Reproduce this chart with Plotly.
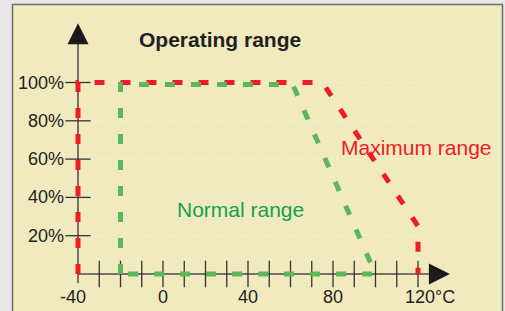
import plotly.graph_objects as go

# ---------------- data ----------------
max_temp = [-40, -40, 75, 120, 120]
max_load = [0, 100, 100, 25, 0]
norm_temp = [-20, -20, 61, 100, -20]
norm_load = [0, 99, 99, 0, 0]

x_tick_vals = [-40, 0, 40, 80, 120]
x_tick_text = ["-40", "0", "40", "80", "120°C"]
x_tick_marks = [-30, -20, -10, 0, 10, 20, 30, 40, 50, 60, 70, 80, 90, 100, 110, 120]
y_tick_vals = [20, 40, 60, 80, 100]
y_tick_text = ["20%", "40%", "60%", "80%", "100%"]

title_text = "Operating range"
max_label = "Maximum range"
norm_label = "Normal range"

# ---------------- styling ----------------
W, H = 505, 311
PX_PER_DEG = 2.125
X0_PX = 78.0            # pixel of -40 °C
PX_PER_PCT = 1.915
Y0_PX = 274.0           # pixel of 0 %

x_lo = -40 - X0_PX / PX_PER_DEG
x_hi = x_lo + W / PX_PER_DEG
y_hi = Y0_PX / PX_PER_PCT
y_lo = -(H - Y0_PX) / PX_PER_PCT

FONT = "Liberation Sans, Arial, Helvetica, sans-serif"
TXT = "#231f20"
AXIS = "#4a4a4a"
RED = "#ee1c25"
GREEN = "#5cb65a"
GREEN_TXT = "#12a150"
PANEL = "#f1eabf"

x_axis_end = 135.0
y_axis_end = 131.0

fig = go.Figure()

# faint dotted grid lines
gx, gy = [], []
for v in y_tick_vals:
    gx += [-40, 125, None]
    gy += [v, v, None]
fig.add_trace(go.Scatter(x=gx, y=gy, mode="lines",
                         line=dict(color="rgba(255,255,255,0.35)", width=1, dash="dot"),
                         hoverinfo="skip"))

# axis lines
fig.add_trace(go.Scatter(x=[-40, -40], y=[-4.7, y_axis_end - 8], mode="lines",
                         line=dict(color=AXIS, width=1.5), hoverinfo="skip"))
fig.add_trace(go.Scatter(x=[-40, x_axis_end - 8], y=[0, 0], mode="lines",
                         line=dict(color=AXIS, width=1.5), hoverinfo="skip"))

# tick marks crossing the axes
fig.add_trace(go.Scatter(x=x_tick_marks, y=[0] * len(x_tick_marks), mode="markers",
                         marker=dict(symbol="line-ns", size=19,
                                     line=dict(width=1.3, color="#333333")),
                         hoverinfo="skip"))
fig.add_trace(go.Scatter(x=[-40] * len(y_tick_vals), y=y_tick_vals, mode="markers",
                         marker=dict(symbol="line-ew", size=18,
                                     line=dict(width=1.3, color="#333333")),
                         hoverinfo="skip"))

# ranges
fig.add_trace(go.Scatter(x=max_temp, y=max_load, mode="lines",
                         line=dict(color=RED, width=5, dash="10px,16px"),
                         hoverinfo="skip"))
fig.add_trace(go.Scatter(x=norm_temp, y=norm_load, mode="lines",
                         line=dict(color=GREEN, width=5, dash="10px,16px"),
                         hoverinfo="skip"))

annotations = []
# arrow heads
annotations.append(dict(x=-40, y=y_axis_end, ax=-40, ay=y_axis_end - 9,
                        xref="x", yref="y", axref="x", ayref="y", text="",
                        showarrow=True, arrowhead=2, arrowsize=2.8, arrowwidth=1.5,
                        arrowcolor="#1a1a1a", standoff=0))
annotations.append(dict(x=x_axis_end, y=0, ax=x_axis_end - 9, ay=0,
                        xref="x", yref="y", axref="x", ayref="y", text="",
                        showarrow=True, arrowhead=2, arrowsize=2.8, arrowwidth=1.5,
                        arrowcolor="#1a1a1a", standoff=0))

# tick labels
for v, t in zip(y_tick_vals, y_tick_text):
    annotations.append(dict(x=-45.6, y=v, xref="x", yref="y", text=t, showarrow=False,
                            xanchor="right", yanchor="middle",
                            font=dict(family=FONT, size=18, color=TXT)))
x_shift = {"-40": -5, "120°C": 12}
for v, t in zip(x_tick_vals, x_tick_text):
    annotations.append(dict(x=v, y=-12, xref="x", yref="y", text=t, showarrow=False,
                            xanchor="center", yanchor="middle", xshift=x_shift.get(t, 0),
                            font=dict(family=FONT, size=18, color=TXT)))

# labels
annotations.append(dict(x=26.6, y=122.2, xref="x", yref="y", text="<b>" + title_text + "</b>",
                        showarrow=False, xanchor="center", yanchor="middle",
                        font=dict(family=FONT, size=21, color=TXT)))
annotations.append(dict(x=119.4, y=66.3, xref="x", yref="y", text=max_label,
                        showarrow=False, xanchor="center", yanchor="middle",
                        font=dict(family=FONT, size=21, color=RED)))
annotations.append(dict(x=36.7, y=33.9, xref="x", yref="y", text=norm_label,
                        showarrow=False, xanchor="center", yanchor="middle",
                        font=dict(family=FONT, size=21, color=GREEN_TXT)))

fig.update_layout(
    width=W, height=H,
    margin=dict(l=0, r=0, t=0, b=0, pad=0),
    paper_bgcolor="#e7e7e7",
    plot_bgcolor="rgba(0,0,0,0)",
    showlegend=False,
    xaxis=dict(range=[x_lo, x_hi], visible=False, fixedrange=True),
    yaxis=dict(range=[y_lo, y_hi], visible=False, fixedrange=True),
    shapes=[dict(type="rect", xref="paper", yref="paper",
                 x0=12.5 / W, x1=502.5 / W, y0=-0.05, y1=1 - 4.5 / H,
                 fillcolor=PANEL, line=dict(color="#6e6e6e", width=1.5), layer="below")],
    annotations=annotations,
)

fig.write_html("out.html", config={"displayModeBar": False},
               post_script="document.body.style.margin='0';document.body.style.overflow='hidden';")
